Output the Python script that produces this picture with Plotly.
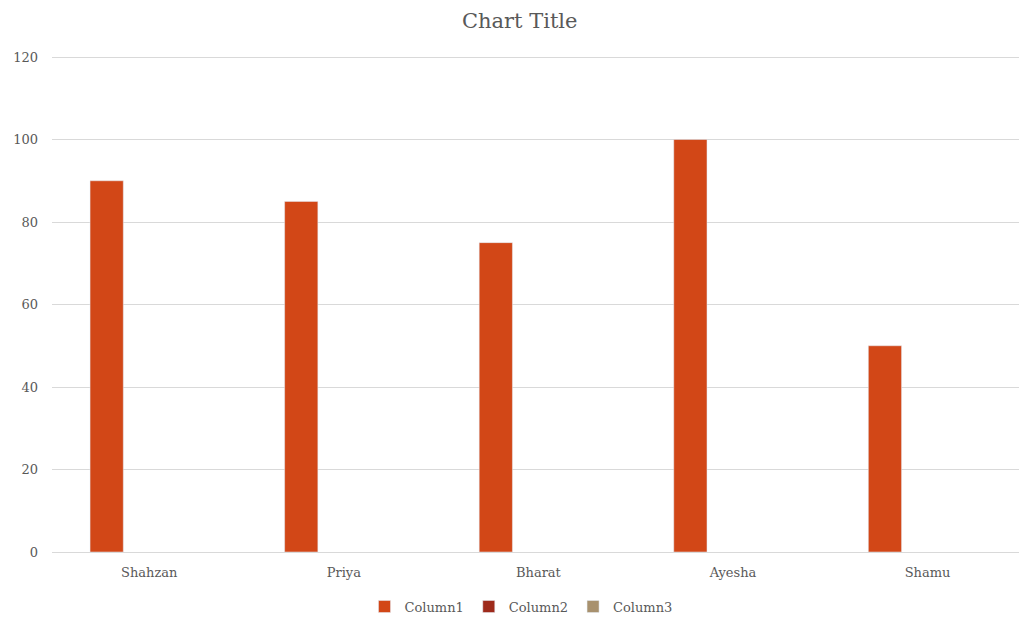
import plotly.graph_objects as go

categories = ["Shahzan", "Priya", "Bharat", "Ayesha", "Shamu"]
column1 = [90, 85, 75, 100, 50]
column2 = [None, None, None, None, None]
column3 = [None, None, None, None, None]
y_ticks = [0, 20, 40, 60, 80, 100, 120]

font_family = "DejaVu Serif, Liberation Serif, serif"
text_color = "#595959"

fig = go.Figure()
fig.add_trace(go.Bar(name="Column1", x=categories, y=column1, marker=dict(color="#D24717")))
fig.add_trace(go.Bar(name="Column2", x=categories, y=column2, marker=dict(color="#9E2A1B")))
fig.add_trace(go.Bar(name="Column3", x=categories, y=column3, marker=dict(color="#A8916E")))

fig.update_layout(
    width=1019, height=617,
    margin=dict(l=52, r=0, t=56, b=65, autoexpand=False),
    paper_bgcolor="white", plot_bgcolor="white",
    barmode="group", bargap=0.343, bargroupgap=0.22,
    font=dict(family=font_family, color=text_color, size=13),
    title=dict(text="Chart Title", x=0.51, xanchor="center", y=0.967, yanchor="middle",
               font=dict(family=font_family, size=21, color=text_color)),
    legend=dict(orientation="h", x=0.485, xanchor="center", y=-0.11, yanchor="middle",
                font=dict(family=font_family, size=13, color=text_color),
                itemwidth=30, traceorder="normal"),
    xaxis=dict(range=[-0.5, 4.47], showgrid=False, showline=True, linecolor="#d9d9d9",
               ticks="", tickfont=dict(size=13, color=text_color), ticklabelstandoff=8,
               automargin=False),
    yaxis=dict(range=[0, 120.25], tickvals=y_ticks, showgrid=True, gridcolor="#d9d9d9",
               zeroline=False, ticks="", ticklen=0, tickfont=dict(size=13, color=text_color),
               ticklabelstandoff=13, automargin=False),
)

fig.write_html("out.html")
